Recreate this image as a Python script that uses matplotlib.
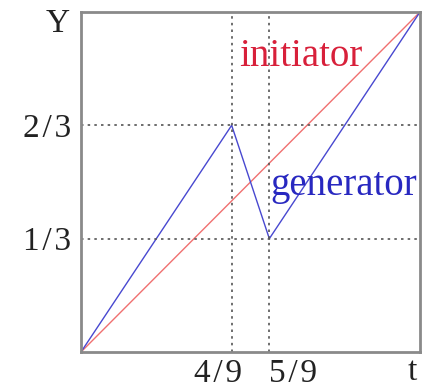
import matplotlib.pyplot as plt
import matplotlib.transforms as mtransforms

# initiator: straight segment from (0,0) to (1,1)
init_t = [0, 1]
init_y = [0, 1]

# generator: three-piece zig-zag
gen_t = [0, 4/9, 5/9, 1]
gen_y = [0, 2/3, 1/3, 1]

xticks = [4/9, 5/9]
xlabels = ['4\u200a/\u200a9', '5\u200a/\u200a9']
xlabel_pos = [0.404, 0.625]   # labels nudged apart so they don't collide
yticks = [1/3, 2/3]
ylabels = ['1\u200a/\u200a3', '2\u200a/\u200a3']

plt.rcParams['font.family'] = ['Liberation Serif', 'DejaVu Serif']

fig = plt.figure(figsize=(4.23, 3.9), dpi=100)
ax = fig.add_axes([81/423, 38/390, 339/423, 340/390])

ax.plot(init_t, init_y, color='#f07070', lw=1.0)
ax.plot(gen_t, gen_y, color='#4848d0', lw=1.0)

ax.set_xlim(0, 1)
ax.set_ylim(0, 1)

ax.set_xticks(xticks)
ax.set_xticklabels([])
ax.set_yticks(yticks)
ax.set_yticklabels(ylabels, fontsize=24)
ax.tick_params(length=0, pad=7, colors='#222222')

trans = mtransforms.blended_transform_factory(ax.transData, ax.transAxes)
for x, lab in zip(xlabel_pos, xlabels):
    ax.text(x, -0.065, lab, transform=trans, fontsize=24, ha='center',
            va='center', color='#222222')

for x in xticks:
    ax.axvline(x, color='#555555', lw=1.2, ls=(0, (1.5, 2.5)))
for y in yticks:
    ax.axhline(y, color='#555555', lw=1.2, ls=(0, (1.5, 2.5)))

for s in ax.spines.values():
    s.set_color('#8a8a8a')
    s.set_linewidth(2)

ax.text(0.466, 0.868, 'initiator', color='#d8203a', fontsize=28,
        va='center', ha='left')
ax.text(0.56, 0.491, 'generator', color='#2828c0', fontsize=28,
        va='center', ha='left')

fig.text(58/423, 1 - 24/390, 'Y', fontsize=24, ha='center', va='center', color='#222222')
fig.text(412/423, 1 - 372/390, 't', fontsize=24, ha='center', va='center', color='#222222')

fig.savefig('out.png', dpi=100)
